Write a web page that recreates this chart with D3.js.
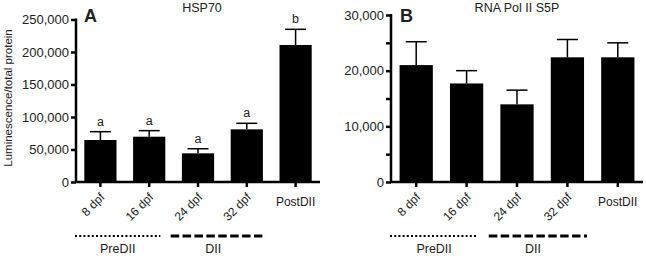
<!DOCTYPE html>
<html>
<head>
<meta charset="utf-8">
<script src="https://cdn.jsdelivr.net/npm/d3@7"></script>
<style>
  html, body { margin: 0; padding: 0; background: #fff; }
  svg { display: block; font-family: "Liberation Sans", Arial, sans-serif; }
</style>
</head>
<body>
<svg id="chart" width="646" height="256"></svg>
<script>
const categories = ['8 dpf', '16 dpf', '24 dpf', '32 dpf', 'PostDII'];

// HSP70 panel
const hspMeans = [64600, 69700, 44100, 81000, 210800];
const hspErrTop = [77400, 79000, 51200, 90300, 234900];
const hspLetters = ['a', 'a', 'a', 'a', 'b'];
const hspTicks = [0, 50000, 100000, 150000, 200000, 250000];

// RNA Pol II S5P panel
const polMeans = [21000, 17700, 13950, 22400, 22400];
const polErrTop = [25200, 20000, 16500, 25600, 25000];
const polTicks = [0, 10000, 20000, 30000];
const polMinor = [5000, 15000, 25000];

// stage groups under the x axis (category index ranges)
const groupNames = ['PreDII', 'DII'];
const groupFrom = [0, 2];
const groupTo = [1, 3];

const groupStyle = [
  { dash: '2,2.2', width: 2, padL: 0.19, padR: -5, labelDx: 0 },
  { dash: '8.5,3.4', width: 3, padL: 0.23, padR: 3, labelDx: -5 }
];

const svg = d3.select('#chart');
const fmt = d3.format(',');
const textColor = '#222';

function panel(opt) {
  const { left, right, top, yMax, ticks, minor, means, errTop, letters, title, tag, tagX, titleX } = opt;
  const bottom = 182;

  const x = d3.scaleBand().domain(categories).range([left, right]).paddingInner(0.34).paddingOuter(0.17);
  const y = d3.scaleLinear().domain([0, yMax]).range([bottom, top]);
  const g = svg.append('g');
  const cx = i => x(categories[i]) + x.bandwidth() / 2;

  // bars
  g.selectAll('rect.bar').data(means).enter().append('rect')
    .attr('class', 'bar')
    .attr('x', (d, i) => x(categories[i]))
    .attr('y', d => y(d))
    .attr('width', x.bandwidth())
    .attr('height', d => bottom - y(d))
    .attr('fill', '#000');

  // error bars (upper whisker only)
  g.selectAll('line.err').data(errTop).enter().append('line')
    .attr('class', 'err')
    .attr('x1', (d, i) => cx(i)).attr('x2', (d, i) => cx(i))
    .attr('y1', (d, i) => y(means[i])).attr('y2', d => y(d))
    .attr('stroke', '#000').attr('stroke-width', 1.5);
  g.selectAll('line.cap').data(errTop).enter().append('line')
    .attr('class', 'cap')
    .attr('x1', (d, i) => cx(i) - 10.5).attr('x2', (d, i) => cx(i) + 10.5)
    .attr('y1', d => y(d)).attr('y2', d => y(d))
    .attr('stroke', '#000').attr('stroke-width', 1.5);

  if (letters) {
    g.selectAll('text.letter').data(letters).enter().append('text')
      .attr('class', 'letter')
      .attr('x', (d, i) => cx(i))
      .attr('y', (d, i) => y(errTop[i]) - 6)
      .attr('text-anchor', 'middle')
      .attr('font-size', 12.5)
      .attr('fill', textColor)
      .text(d => d);
  }

  // y axis
  const ya = g.append('g').attr('transform', `translate(${left},0)`)
    .call(d3.axisLeft(y).tickValues(ticks).tickFormat(fmt).tickSize(5).tickPadding(2));
  ya.select('.domain').attr('stroke-width', 2.5).attr('d', `M0,${bottom + 1}V${top - 1}`);
  ya.selectAll('.tick line').attr('stroke-width', 2.5);
  ya.selectAll('.tick text').attr('font-size', 13).attr('fill', textColor)
    .attr('font-family', '"Liberation Sans", Arial, sans-serif');
  if (minor) {
    g.append('g').attr('transform', `translate(${left},0)`)
      .call(d3.axisLeft(y).tickValues(minor).tickFormat('').tickSize(5))
      .call(s => s.select('.domain').remove())
      .selectAll('.tick line').attr('stroke-width', 2.5);
  }

  // x axis
  const xa = g.append('g').attr('transform', `translate(0,${bottom})`)
    .call(d3.axisBottom(x).tickSize(5).tickFormat(''));
  xa.select('.domain').attr('stroke-width', 2.5).attr('d', `M${left - 1},0H${right}`);
  xa.selectAll('.tick line').attr('stroke-width', 2.5);

  categories.forEach((c, i) => {
    if (i < 4) {
      g.append('text')
        .attr('transform', `translate(${cx(i) + 5},${bottom + 16}) rotate(-45)`)
        .attr('text-anchor', 'end')
        .attr('font-size', 12)
        .attr('fill', textColor)
        .text(c);
    } else {
      g.append('text')
        .attr('x', cx(i))
        .attr('y', bottom + 24)
        .attr('text-anchor', 'middle')
        .attr('font-size', 12)
        .attr('fill', textColor)
        .text(c);
    }
  });

  // stage group lines
  groupNames.forEach((name, k) => {
    const st = groupStyle[k];
    const x1 = x(categories[groupFrom[k]]) - x.step() * st.padL;
    const x2 = x(categories[groupTo[k]]) + x.bandwidth() + st.padR;
    g.append('line')
      .attr('x1', x1).attr('x2', x2)
      .attr('y1', 236).attr('y2', 236)
      .attr('stroke', '#000').attr('stroke-width', st.width)
      .attr('stroke-dasharray', st.dash);
    g.append('text')
      .attr('x', (x1 + x2) / 2 + st.labelDx)
      .attr('y', 252.5)
      .attr('text-anchor', 'middle')
      .attr('font-size', 12.5)
      .attr('fill', textColor)
      .text(name);
  });

  // panel title and tag
  g.append('text').attr('x', titleX).attr('y', 11.5).attr('text-anchor', 'middle')
    .attr('font-size', 12.5).attr('fill', textColor).text(title);
  g.append('text').attr('x', tagX).attr('y', 22).attr('font-size', 18)
    .attr('font-weight', 'bold').attr('fill', textColor).text(tag);
}

panel({ left: 76, right: 320, top: 19.5, yMax: 250000, ticks: hspTicks, minor: null,
  means: hspMeans, errTop: hspErrTop, letters: hspLetters,
  title: 'HSP70', tag: 'A', tagX: 84, titleX: 202 });
panel({ left: 391, right: 643, top: 15, yMax: 30000, ticks: polTicks, minor: polMinor,
  means: polMeans, errTop: polErrTop, letters: null,
  title: 'RNA Pol II S5P', tag: 'B', tagX: 400, titleX: 517 });

// shared y axis label
svg.append('text')
  .attr('transform', 'translate(12,98) rotate(-90)')
  .attr('text-anchor', 'middle')
  .attr('font-size', 11.5)
  .attr('fill', textColor)
  .text('Luminescence/total protein');
</script>
</body>
</html>
